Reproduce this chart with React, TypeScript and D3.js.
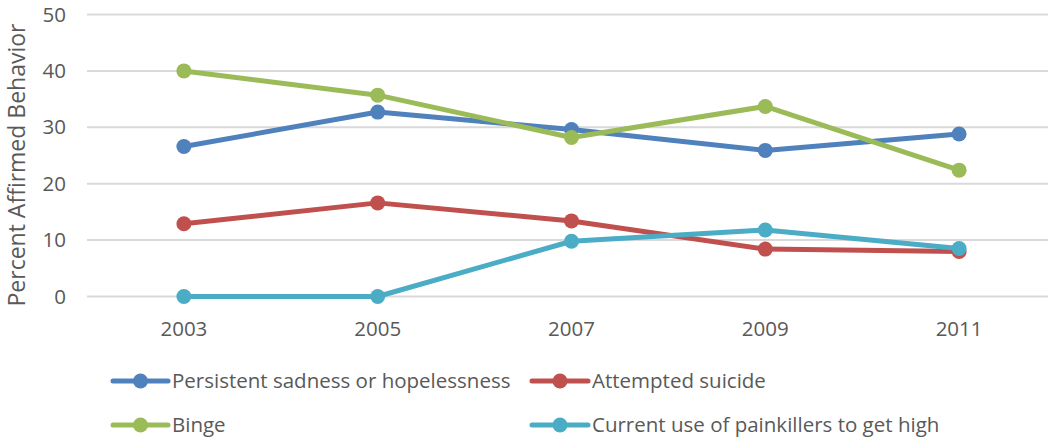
import React from "react";
import * as d3 from "d3";

const years = ["2003", "2005", "2007", "2009", "2011"];
const sadness = [26.6, 32.7, 29.6, 25.9, 28.8];
const suicide = [12.9, 16.6, 13.4, 8.4, 8.0];
const binge = [40.0, 35.7, 28.2, 33.7, 22.4];
const painkillers = [0, 0, 9.8, 11.8, 8.5];
const yTicks = [0, 10, 20, 30, 40, 50];

const seriesNames = [
  "Persistent sadness or hopelessness",
  "Attempted suicide",
  "Binge",
  "Current use of painkillers to get high",
];
const seriesColors = ["#4f81bd", "#c0504d", "#9bbb59", "#4bacc6"];

const W = 1048;
const H = 442;
const FONT = "'Open Sans', sans-serif";
const TEXT = "#595959";
const FS = 20.5;

export default function App() {
  const x = d3.scaleBand<string>().domain(years).range([87, 1056]);
  const y = d3.scaleLinear().domain([0, 50]).range([296.5, 14.5]);
  const cx = (yr: string) => (x(yr) as number) + x.bandwidth() / 2;
  const data = [sadness, suicide, binge, painkillers];
  const line = d3
    .line<number>()
    .x((_, i) => cx(years[i]))
    .y((v) => y(v));

  const legendPos = [
    { lx: 113, ly: 381 },
    { lx: 532, ly: 381 },
    { lx: 113, ly: 425 },
    { lx: 532, ly: 425 },
  ];

  return (
    <svg
      width={W}
      height={H}
      style={{ position: "absolute", left: 0, top: 0, background: "#fff" }}
      fontFamily={FONT}
    >
      {yTicks.map((t) => (
        <g key={t}>
          <line x1={87} x2={1056} y1={y(t)} y2={y(t)} stroke="#d9d9d9" strokeWidth={2} />
          <text x={66} y={y(t)} dy="0.35em" textAnchor="end" fontSize={FS} fill={TEXT}>
            {t}
          </text>
        </g>
      ))}
      <text
        transform={`translate(25,${165}) rotate(-90)`}
        textAnchor="middle"
        fontSize={23}
        fill={TEXT}
      >
        Percent Affirmed Behavior
      </text>
      {years.map((yr) => (
        <text key={yr} x={cx(yr)} y={336} textAnchor="middle" fontSize={FS} fill={TEXT}>
          {yr}
        </text>
      ))}
      {data.map((s, k) => (
        <g key={k}>
          <path d={line(s) as string} fill="none" stroke={seriesColors[k]} strokeWidth={5} strokeLinejoin="round" />
          {s.map((v, i) => (
            <circle key={i} cx={cx(years[i])} cy={y(v)} r={7.5} fill={seriesColors[k]} />
          ))}
        </g>
      ))}
      {seriesNames.map((n, k) => {
        const p = legendPos[k];
        const len = k % 2 === 0 ? 55 : 56;
        return (
          <g key={n}>
            <line x1={p.lx} x2={p.lx + len} y1={p.ly} y2={p.ly} stroke={seriesColors[k]} strokeWidth={5} strokeLinecap="round" />
            <circle cx={p.lx + len / 2} cy={p.ly} r={7.5} fill={seriesColors[k]} />
            <text x={p.lx + len + 4} y={p.ly} dy="0.35em" fontSize={FS} fill={TEXT}>
              {n}
            </text>
          </g>
        );
      })}
    </svg>
  );
}
